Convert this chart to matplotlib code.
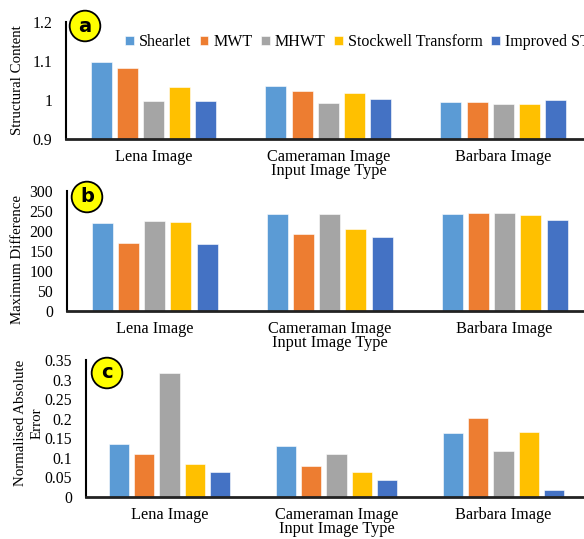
import numpy as np
import matplotlib
matplotlib.use('Agg')
import matplotlib.pyplot as plt
from matplotlib.ticker import FuncFormatter

plt.rcParams['font.family'] = ['Liberation Serif', 'DejaVu Serif']

images = ['Lena Image', 'Cameraman Image', 'Barbara Image']
methods = ['Shearlet', 'MWT', 'MHWT', 'Stockwell Transform', 'Improved ST']
colors = ['#5B9BD5', '#ED7D31', '#A5A5A5', '#FFC000', '#4472C4']

# values, one row per method (Lena, Cameraman, Barbara)
structural_content = [
    [1.097, 1.035, 0.996],
    [1.081, 1.024, 0.996],
    [0.998, 0.992, 0.989],
    [1.033, 1.017, 0.990],
    [0.998, 1.003, 1.001],
]
max_difference = [
    [221, 242, 243],
    [171, 192, 246],
    [225, 242, 246],
    [223, 205, 239],
    [168, 185, 228],
]
nae = [
    [0.135, 0.130, 0.163],
    [0.109, 0.078, 0.202],
    [0.316, 0.109, 0.118],
    [0.084, 0.064, 0.165],
    [0.064, 0.044, 0.018],
]

W, H = 584, 539
fig = plt.figure(figsize=(W / 100, H / 100), dpi=100)

def px_axes(left, right, top, bottom):
    return fig.add_axes([left / W, 1 - bottom / H, (right - left) / W, (bottom - top) / H])

panels = [
    # data, ylim, ticks, box (left, right, top, bottom), ylabel, ylabel pos, letter, circle pos
    (structural_content, (0.9, 1.2), np.arange(0.9, 1.21, 0.1), (66, 591, 22, 139),
     'Structural Content', (18, 80), 'a', (85, 26)),
    (max_difference, (0, 300), np.arange(0, 301, 50), (67, 592, 191, 311),
     'Maximum Difference', (18, 259), 'b', (87, 197)),
    (nae, (0, 0.35), np.arange(0, 0.351, 0.05), (86, 587, 360, 497),
     'Normalised Absolute\nError', (29, 423), 'c', (107, 373)),
]

x = np.arange(len(images))
bw = 0.12
step = 0.15

for k, (data, ylim, ticks, box, ylab, ylab_pos, letter, cpos) in enumerate(panels):
    ax = px_axes(*box)
    for i, vals in enumerate(data):
        ax.bar(x + (i - 2) * step, vals, width=bw, color=colors[i], label=methods[i],
               edgecolor='white', linewidth=0.4)
    ax.set_xlim(-0.5, 2.5)
    ax.set_ylim(*ylim)
    ax.set_yticks(ticks)
    ax.yaxis.set_major_formatter(FuncFormatter(lambda v, p: '%g' % round(v, 2)))
    ax.set_xticks(x)
    ax.set_xticklabels(images)
    ax.tick_params(axis='x', length=0, pad=7, labelsize=11.7)
    ax.tick_params(axis='y', length=0, pad=10, labelsize=11.3)
    ax.set_xlabel('Input Image Type', fontsize=11.7, labelpad=-1)
    for s in ['top', 'right']:
        ax.spines[s].set_visible(False)
    ax.spines['left'].set_linewidth(1.5)
    ax.spines['bottom'].set_linewidth(2)
    ax.spines['bottom'].set_color('#222222')
    ax.set_facecolor('none')

    fig.text(ylab_pos[0] / W, 1 - ylab_pos[1] / H, ylab, rotation=90, ha='center', va='center',
             multialignment='center', fontsize=10.7, linespacing=1.35)

    fig.text(cpos[0] / W, 1 - cpos[1] / H, letter, ha='center', va='center', fontsize=14,
             fontweight='bold', family='DejaVu Sans',
             bbox=dict(boxstyle='circle,pad=0.3', fc='#FFFF00', ec='black', lw=1.3))

    if k == 0:
        ax.legend(loc='center left', bbox_to_anchor=(125 / W, 1 - 42 / H),
                  bbox_transform=fig.transFigure, ncol=5, frameon=False, fontsize=11.5,
                  handlelength=0.55, handleheight=0.55, handletextpad=0.3,
                  columnspacing=0.55, borderpad=0, borderaxespad=0)

fig.savefig('out.png', dpi=100)
